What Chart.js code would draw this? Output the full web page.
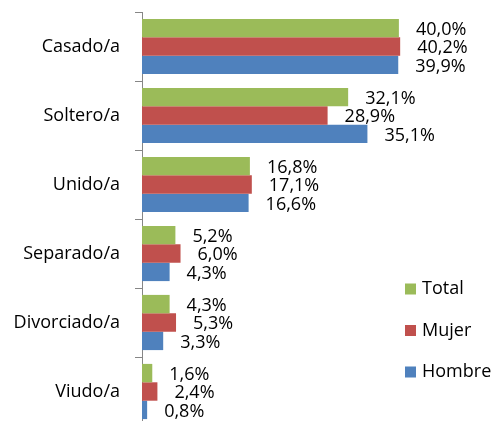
<!DOCTYPE html>
<html>
<head>
<meta charset="utf-8">
<script src="https://cdn.jsdelivr.net/npm/chart.js@4"></script>
<style>
html, body { margin: 0; padding: 0; background: #fff; }
#wrap { width: 493px; height: 421px; overflow: hidden; }
</style>
</head>
<body>
<div id="wrap"><canvas id="chart" width="493" height="430"></canvas></div>
<script>
const categories = ['Casado/a', 'Soltero/a', 'Unido/a', 'Separado/a', 'Divorciado/a', 'Viudo/a'];
const seriesNames = ['Total', 'Mujer', 'Hombre'];
const total = [40.0, 32.1, 16.8, 5.2, 4.3, 1.6];
const mujer = [40.2, 28.9, 17.1, 6.0, 5.3, 2.4];
const hombre = [39.9, 35.1, 16.6, 4.3, 3.3, 0.8];
const colors = ['#9BBB59', '#C0504D', '#4F81BD'];
const FONT = '"Open Sans", sans-serif';

const formatPct = v => v.toFixed(1).replace('.', ',') + '%';

// value labels just past the end of every bar
const valueLabels = {
    id: 'valueLabels',
    afterDatasetsDraw(chart) {
        const ctx = chart.ctx;
        ctx.save();
        ctx.font = `18px ${FONT}`;
        ctx.fillStyle = '#000';
        ctx.textAlign = 'left';
        ctx.textBaseline = 'middle';
        chart.data.datasets.forEach((ds, i) => {
            chart.getDatasetMeta(i).data.forEach((bar, j) => {
                ctx.fillText(formatPct(ds.data[j]), bar.x + 17, bar.y + 1.5);
            });
        });
        ctx.restore();
    }
};

// legend stacked on the right, like the Excel original
const sideLegend = {
    id: 'sideLegend',
    afterDraw(chart) {
        const ctx = chart.ctx;
        ctx.save();
        ctx.font = `18px ${FONT}`;
        ctx.textAlign = 'left';
        ctx.textBaseline = 'middle';
        chart.data.datasets.forEach((ds, i) => {
            const y = 289 + i * 41.5;
            ctx.fillStyle = ds.backgroundColor;
            ctx.fillRect(405, y - 5.5, 11, 11);
            ctx.fillStyle = '#000';
            ctx.fillText(ds.label, 422, y);
        });
        ctx.restore();
    }
};

const chart = new Chart(document.getElementById('chart'), {
    type: 'bar',
    data: {
        labels: categories,
        datasets: [
            { label: seriesNames[0], data: total, backgroundColor: colors[0] },
            { label: seriesNames[1], data: mujer, backgroundColor: colors[1] },
            { label: seriesNames[2], data: hombre, backgroundColor: colors[2] }
        ]
    },
    options: {
        indexAxis: 'y',
        responsive: false,
        animation: false,
        categoryPercentage: 0.8,
        barPercentage: 1.0,
        layout: {
            padding: { top: 12, right: 62, bottom: 4, left: 0 }
        },
        scales: {
            x: { display: false, min: 0, max: 45 },
            y: {
                offset: true,
                grid: { offset: true, drawOnChartArea: false, color: '#868686', tickLength: 7 },
                border: { color: '#868686' },
                ticks: { color: '#000', font: { family: FONT, size: 18 }, padding: 15 },
                afterFit(scale) {
                    scale.width = 142;
                    // labels sit mid-category, so no extra room needed above/below
                    scale.paddingTop = 0;
                    scale.paddingBottom = 0;
                }
            }
        },
        plugins: {
            legend: { display: false },
            tooltip: { enabled: false }
        }
    },
    plugins: [valueLabels, sideLegend]
});
</script>
</body>
</html>
